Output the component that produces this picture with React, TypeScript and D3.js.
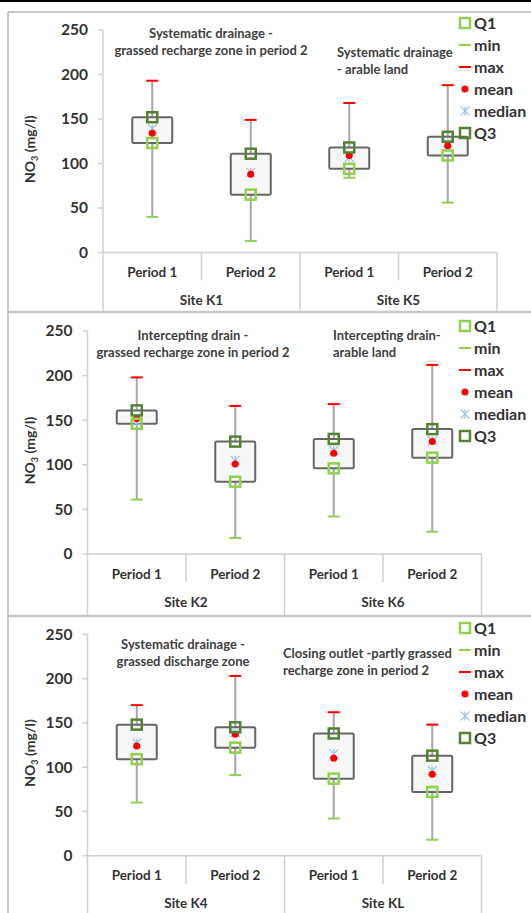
import React from 'react';
import * as d3 from 'd3';

const categories = ['Period 1', 'Period 2', 'Period 1', 'Period 2'];
const yTicks = [0, 50, 100, 150, 200, 250];
const legendItems = ['Q1', 'min', 'max', 'mean', 'median', 'Q3'];

// panel 1: K1 / K5
const sites1 = ['Site K1', 'Site K5'];
const min1 = [40, 13, 84, 56];
const q1_1 = [123, 65, 94, 109];
const median1 = [139, 90, 107, 123];
const mean1 = [134, 88, 109, 120];
const q3_1 = [152, 111, 118, 130];
const max1 = [193, 149, 168, 188];
const notes1 = [
  ['Systematic drainage -', 'grassed recharge zone in period 2'],
  ['Systematic drainage', '- arable land'],
];

// panel 2: K2 / K6
const sites2 = ['Site K2', 'Site K6'];
const min2 = [61, 18, 42, 25];
const q1_2 = [146, 81, 96, 108];
const median2 = [148, 105, 116, 127];
const mean2 = [152, 101, 113, 126];
const q3_2 = [161, 126, 129, 140];
const max2 = [198, 166, 168, 212];
const notes2 = [
  ['Intercepting drain -', 'grassed recharge zone in period 2'],
  ['Intercepting drain-', 'arable land'],
];

// panel 3: K4 / KL
const sites3 = ['Site K4', 'Site KL'];
const min3 = [60, 91, 42, 18];
const q1_3 = [109, 122, 87, 72];
const median3 = [127, 139, 115, 96];
const mean3 = [124, 137, 110, 92];
const q3_3 = [148, 145, 138, 113];
const max3 = [170, 203, 162, 148];
const notes3 = [
  ['Systematic drainage -', 'grassed discharge zone'],
  ['Closing outlet -partly grassed', 'recharge zone in period 2'],
];

const FONT = 'Lato, "Open Sans", sans-serif';
const TXT = '#333';
const AXIS = '#d0d0d0';
const LIGHT_GREEN = '#92d050';
const DARK_GREEN = '#548235';
const RED = '#ff0000';
const BLUE = '#9dc3e6';

type PanelProps = {
  top: number;
  bottom: number;
  axisX: number;
  right: number;
  y250: number;
  y0: number;
  legendY: number;
  legendX: number;
  sites: string[];
  mins: number[];
  q1s: number[];
  medians: number[];
  means: number[];
  q3s: number[];
  maxs: number[];
  notes: string[][];
  notePos: { x: number; y: number; anchor: string }[];
};

const Marker = ({ kind, x, y }: { kind: string; x: number; y: number }) => {
  if (kind === 'Q1' || kind === 'Q3') {
    return (
      <rect x={x - 5} y={y - 5} width={10} height={10} fill="none"
        stroke={kind === 'Q1' ? LIGHT_GREEN : DARK_GREEN} strokeWidth={2.5} />
    );
  }
  if (kind === 'min' || kind === 'max') {
    return <line x1={x - 6} x2={x + 6} y1={y} y2={y} stroke={kind === 'min' ? LIGHT_GREEN : RED} strokeWidth={2} />;
  }
  if (kind === 'mean') return <circle cx={x} cy={y} r={3.5} fill={RED} />;
  const s = 4.5;
  return (
    <g stroke={BLUE} strokeWidth={1.3}>
      <line x1={x - s} x2={x + s} y1={y - s} y2={y + s} />
      <line x1={x - s} x2={x + s} y1={y + s} y2={y - s} />
      <line x1={x} x2={x} y1={y - s} y2={y + s} />
    </g>
  );
};

const Panel = (p: PanelProps) => {
  const y = d3.scaleLinear().domain([0, 250]).range([p.y0, p.y250]);
  const x = d3.scaleBand<number>().domain(d3.range(4)).range([p.axisX, p.right]);
  const bw = x.bandwidth();
  const boxW = 40;
  const cx = (i: number) => (x(i) as number) + bw / 2;

  return (
    <g>
      {/* axes */}
      <line x1={p.axisX} x2={p.axisX} y1={p.y250} y2={p.bottom} stroke={AXIS} strokeWidth={1.5} />
      <line x1={p.axisX} x2={p.right} y1={p.y0} y2={p.y0} stroke={AXIS} strokeWidth={1.5} />
      {yTicks.map((t) => (
        <g key={t}>
          <line x1={p.axisX - 5} x2={p.axisX} y1={y(t)} y2={y(t)} stroke={AXIS} strokeWidth={1.5} />
          <text x={p.axisX - 15} y={y(t)} dy="0.35em" textAnchor="end" fontSize={15.5}
            fontWeight="bold" fill={TXT}>{t}</text>
        </g>
      ))}
      {d3.range(1, 5).map((i) => {
        const xx = p.axisX + bw * i;
        const long = i % 2 === 0;
        return (
          <line key={i} x1={xx} x2={xx} y1={p.y0} y2={long ? p.bottom : p.y0 + 28}
            stroke={AXIS} strokeWidth={1.5} />
        );
      })}
      {categories.map((c, i) => (
        <text key={i} x={cx(i)} y={p.y0 + 20} dy="0.35em" textAnchor="middle" fontSize={13.5}
          fontWeight="bold" fill={TXT}>{c}</text>
      ))}
      {p.sites.map((s, i) => (
        <text key={s} x={p.axisX + bw * (2 * i + 1)} y={p.y0 + 48} dy="0.35em" textAnchor="middle"
          fontSize={13.5} fontWeight="bold" fill={TXT}>{s}</text>
      ))}
      <text transform={`translate(35,${(p.y0 + p.y250) / 2 + 8}) rotate(-90)`} textAnchor="middle"
        fontSize={14} fontWeight="bold" fill={TXT}>
        NO<tspan fontSize={9} dy={3}>3</tspan><tspan dy={-3}> (mg/l)</tspan>
      </text>

      {/* boxes */}
      {d3.range(4).map((i) => (
        <g key={i}>
          <line x1={cx(i)} x2={cx(i)} y1={y(p.mins[i])} y2={y(p.maxs[i])} stroke="#a6a6a6" strokeWidth={2} />
          <rect x={cx(i) - boxW / 2} y={y(p.q3s[i])} width={boxW} height={y(p.q1s[i]) - y(p.q3s[i])}
            fill="#f7f7f7" stroke="#666" strokeWidth={2} rx={1.5} />
          <Marker kind="min" x={cx(i)} y={y(p.mins[i])} />
          <Marker kind="max" x={cx(i)} y={y(p.maxs[i])} />
          <Marker kind="median" x={cx(i)} y={y(p.medians[i])} />
          <Marker kind="mean" x={cx(i)} y={y(p.means[i])} />
          <Marker kind="Q1" x={cx(i)} y={y(p.q1s[i])} />
          <Marker kind="Q3" x={cx(i)} y={y(p.q3s[i])} />
        </g>
      ))}

      {/* annotations */}
      {p.notes.map((lines, k) => (
        <text key={k} x={p.notePos[k].x} y={p.notePos[k].y} textAnchor={p.notePos[k].anchor as any}
          fontSize={13} fontWeight="bold" fill="#404040">
          {lines.map((l, j) => (
            <tspan key={j} x={p.notePos[k].x} dy={j === 0 ? 0 : 17}>{l}</tspan>
          ))}
        </text>
      ))}

      {/* legend */}
      {legendItems.map((it, j) => (
        <g key={it}>
          <Marker kind={it} x={p.legendX} y={p.legendY + j * 22} />
          <text x={p.legendX + 9} y={p.legendY + j * 22} dy="0.35em" fontSize={16} fontWeight="bold"
            fill={TXT}>{it}</text>
        </g>
      ))}
    </g>
  );
};

const App = () => {
  const width = 531;
  const height = 913;

  return (
    <svg width={width} height={height} style={{ position: 'absolute', left: 0, top: 0, background: '#fff' }}
      fontFamily={FONT}>
      <line x1={0} x2={width} y1={1} y2={1} stroke="#000" strokeWidth={2} />
      <line x1={8} x2={width} y1={12} y2={12} stroke="#c8c8c8" strokeWidth={2} />
      <line x1={8} x2={width} y1={312} y2={312} stroke="#c8c8c8" strokeWidth={2.5} />
      <line x1={8} x2={width} y1={616} y2={616} stroke="#c8c8c8" strokeWidth={2.5} />
      <line x1={8} x2={8} y1={12} y2={height} stroke="#c8c8c8" strokeWidth={2} />

      <Panel top={12} bottom={311} axisX={103} right={497} y250={30} y0={252.5} legendY={23} legendX={465}
        sites={sites1} mins={min1} q1s={q1_1} medians={median1} means={mean1} q3s={q3_1} maxs={max1}
        notes={notes1}
        notePos={[{ x: 211, y: 38, anchor: 'middle' }, { x: 337, y: 57, anchor: 'start' }]} />
      <Panel top={312} bottom={615} axisX={87.5} right={481.5} y250={331} y0={554} legendY={326} legendX={465}
        sites={sites2} mins={min2} q1s={q1_2} medians={median2} means={mean2} q3s={q3_2} maxs={max2}
        notes={notes2}
        notePos={[{ x: 193, y: 340, anchor: 'middle' }, { x: 333, y: 340, anchor: 'start' }]} />
      <Panel top={616} bottom={913} axisX={87.5} right={481.5} y250={634.3} y0={855.7} legendY={628} legendX={465}
        sites={sites3} mins={min3} q1s={q1_3} medians={median3} means={mean3} q3s={q3_3} maxs={max3}
        notes={notes3}
        notePos={[{ x: 183, y: 649, anchor: 'middle' }, { x: 283, y: 658, anchor: 'start' }]} />
    </svg>
  );
};

export default App;
